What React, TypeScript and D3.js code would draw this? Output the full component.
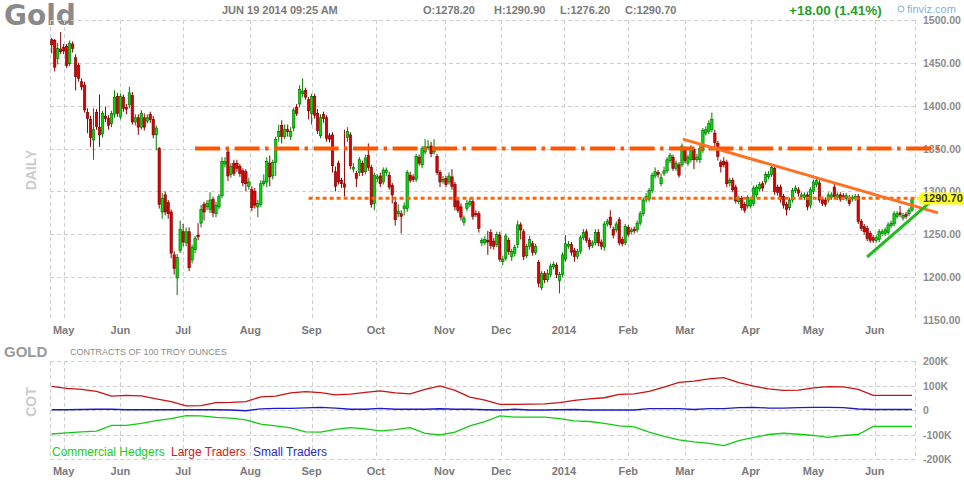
import React from 'react';
import * as d3 from 'd3';

// daily candles (Apr 2013 - Jun 19 2014)
const opens = [
  1477, 1476, 1455, 1466, 1468, 1469, 1449, 1472, 1456, 1447, 1428, 1424, 1392, 1384, 1360, 1392, 1375, 1367, 1388, 1385,
  1379, 1390, 1411, 1387, 1410, 1398, 1401, 1412, 1381, 1386, 1375, 1386, 1382, 1390, 1384, 1366, 1350, 1276, 1296, 1287,
  1276, 1226, 1199, 1231, 1253, 1240, 1253, 1220, 1232, 1249, 1263, 1285, 1282, 1279, 1291, 1274, 1282, 1295, 1332, 1346,
  1320, 1333, 1333, 1329, 1324, 1323, 1306, 1302, 1300, 1282, 1285, 1309,
  1311, 1333, 1318, 1334, 1364, 1377, 1364, 1372, 1364, 1374, 1398, 1402, 1414, 1418, 1407, 1391, 1411, 1391, 1365, 1390,
  1386, 1365, 1366, 1323, 1333, 1313, 1309, 1363, 1366, 1326, 1321, 1322, 1333, 1323, 1342, 1328, 1286, 1315, 1318, 1311,
  1322, 1319, 1307, 1287, 1274, 1274, 1280, 1280, 1319, 1317, 1314, 1340, 1331, 1346, 1351, 1353, 1346, 1341, 1322, 1312,
  1315, 1311, 1317, 1308, 1289, 1282, 1264, 1280, 1285, 1288, 1274, 1274, 1240,
  1240, 1243, 1252, 1242, 1238, 1249, 1218, 1222, 1243, 1224, 1228, 1238, 1261, 1253, 1225, 1236, 1239, 1229, 1217, 1188,
  1204, 1197, 1203, 1212, 1214, 1196, 1203, 1221, 1236, 1238, 1231, 1224, 1230, 1246, 1253, 1243, 1237, 1240, 1252, 1241,
  1235, 1262, 1270, 1256, 1255, 1267, 1244, 1240, 1258, 1253, 1256, 1255, 1263, 1274, 1290, 1291, 1301, 1318, 1322, 1309,
  1321, 1324, 1336, 1340, 1327, 1331, 1331, 1349, 1333, 1337, 1349, 1337,
  1337, 1348, 1368, 1370, 1372, 1368, 1356, 1334, 1335, 1334, 1310, 1313, 1305, 1288, 1292, 1285, 1283, 1283, 1286, 1296,
  1303, 1309, 1311, 1317, 1320, 1327, 1305, 1305, 1294, 1285, 1281, 1290, 1301, 1302, 1294, 1293, 1296, 1284, 1300, 1308,
  1310, 1291, 1290, 1290, 1293, 1305, 1293, 1296, 1295, 1292, 1293, 1291, 1292, 1294, 1265, 1259, 1257, 1251, 1246, 1243,
  1244, 1251, 1251, 1252, 1260, 1262, 1271, 1275, 1269, 1273, 1274, 1278.2,
];
const highs = [
  1479, 1478, 1473, 1486, 1472, 1472, 1476, 1475, 1460, 1450, 1432, 1428, 1397, 1388, 1397, 1396, 1413, 1394, 1399, 1389,
  1394, 1418, 1415, 1414, 1413, 1402, 1422, 1416, 1390, 1390, 1395, 1391, 1390, 1393, 1388, 1377, 1352, 1298, 1300, 1290,
  1279, 1230, 1227, 1266, 1262, 1258, 1258, 1238, 1248, 1263, 1284, 1288, 1290, 1299, 1294, 1288, 1297, 1340, 1340, 1349,
  1333, 1337, 1337, 1332, 1327, 1326, 1316, 1306, 1304, 1290, 1313, 1320,
  1340, 1342, 1337, 1364, 1378, 1383, 1378, 1378, 1375, 1398, 1402, 1424, 1432, 1421, 1410, 1414, 1414, 1396, 1390, 1393,
  1389, 1368, 1369, 1329, 1336, 1316, 1372, 1375, 1369, 1333, 1324, 1340, 1336, 1343, 1356, 1331, 1322, 1320, 1322, 1328,
  1328, 1323, 1310, 1291, 1285, 1278, 1287, 1325, 1323, 1320, 1344, 1343, 1353, 1361, 1360, 1358, 1361, 1344, 1325, 1318,
  1318, 1322, 1326, 1311, 1292, 1286, 1272, 1290, 1292, 1291, 1278, 1277, 1246,
  1248, 1254, 1256, 1246, 1253, 1253, 1225, 1251, 1246, 1233, 1238, 1266, 1264, 1256, 1239, 1248, 1242, 1239, 1220, 1207,
  1207, 1209, 1216, 1218, 1217, 1206, 1229, 1249, 1242, 1241, 1234, 1233, 1249, 1256, 1256, 1246, 1243, 1256, 1256, 1244,
  1265, 1268, 1278, 1259, 1265, 1270, 1247, 1262, 1261, 1258, 1259, 1266, 1277, 1293, 1298, 1304, 1322, 1328, 1325, 1321,
  1329, 1340, 1345, 1343, 1336, 1334, 1356, 1352, 1343, 1354, 1352, 1344,
  1354, 1374, 1376, 1383, 1392, 1372, 1359, 1337, 1340, 1337, 1316, 1316, 1308, 1295, 1295, 1288, 1296, 1293, 1307, 1308,
  1311, 1312, 1323, 1324, 1332, 1330, 1308, 1308, 1297, 1288, 1293, 1304, 1307, 1305, 1299, 1299, 1299, 1305, 1314, 1317,
  1313, 1294, 1293, 1299, 1299, 1309, 1299, 1299, 1298, 1298, 1296, 1296, 1297, 1297, 1268, 1262, 1260, 1254, 1249, 1249,
  1256, 1256, 1258, 1264, 1266, 1277, 1277, 1283, 1275, 1276, 1281, 1290.9,
];
const lows = [
  1461, 1440, 1448, 1460, 1460, 1444, 1446, 1462, 1418, 1428, 1418, 1392, 1368, 1352, 1337, 1372, 1352, 1363, 1381, 1372,
  1375, 1386, 1387, 1384, 1393, 1390, 1397, 1378, 1377, 1366, 1372, 1371, 1379, 1380, 1362, 1348, 1280, 1268, 1272, 1268,
  1222, 1203, 1179, 1228, 1236, 1236, 1207, 1216, 1228, 1243, 1258, 1266, 1278, 1275, 1270, 1270, 1279, 1292, 1328, 1312,
  1316, 1318, 1323, 1317, 1306, 1300, 1302, 1277, 1280, 1270, 1282, 1306,
  1305, 1306, 1314, 1318, 1358, 1356, 1361, 1364, 1360, 1370, 1388, 1398, 1410, 1407, 1384, 1378, 1385, 1367, 1362, 1380,
  1358, 1357, 1322, 1300, 1308, 1304, 1294, 1358, 1326, 1322, 1305, 1318, 1318, 1320, 1324, 1281, 1278, 1311, 1305, 1308,
  1318, 1302, 1286, 1260, 1270, 1251, 1272, 1276, 1310, 1311, 1311, 1330, 1327, 1343, 1348, 1340, 1343, 1319, 1305, 1309,
  1305, 1308, 1302, 1278, 1275, 1266, 1260, 1277, 1282, 1267, 1270, 1252, 1236,
  1237, 1226, 1233, 1232, 1235, 1218, 1214, 1219, 1226, 1219, 1224, 1234, 1244, 1220, 1222, 1232, 1225, 1226, 1188, 1185,
  1193, 1194, 1200, 1209, 1199, 1181, 1200, 1218, 1233, 1225, 1218, 1221, 1227, 1243, 1240, 1232, 1234, 1237, 1236, 1232,
  1231, 1259, 1257, 1245, 1252, 1237, 1236, 1237, 1247, 1250, 1251, 1252, 1260, 1271, 1287, 1288, 1298, 1315, 1316, 1306,
  1318, 1321, 1333, 1324, 1324, 1316, 1328, 1333, 1330, 1334, 1326, 1334,
  1333, 1345, 1365, 1367, 1369, 1352, 1336, 1322, 1328, 1305, 1306, 1299, 1286, 1285, 1278, 1275, 1280, 1280, 1283, 1293,
  1300, 1300, 1308, 1314, 1317, 1296, 1295, 1287, 1280, 1272, 1278, 1287, 1298, 1294, 1291, 1290, 1278, 1280, 1297, 1305,
  1287, 1283, 1282, 1287, 1290, 1291, 1290, 1288, 1290, 1289, 1283, 1288, 1289, 1262, 1254, 1250, 1242, 1240, 1240, 1240,
  1241, 1248, 1248, 1249, 1257, 1259, 1268, 1270, 1266, 1268, 1271, 1276.2,
];
const closes = [
  1471, 1445, 1467, 1463, 1464, 1447, 1473, 1467, 1434, 1432, 1422, 1395, 1385, 1363, 1372, 1376, 1366, 1391, 1385, 1377,
  1391, 1410, 1391, 1411, 1397, 1396, 1415, 1381, 1386, 1375, 1391, 1375, 1386, 1384, 1366, 1374, 1285, 1292, 1276, 1274,
  1228, 1210, 1223, 1256, 1241, 1253, 1211, 1235, 1245, 1247, 1279, 1276, 1286, 1290, 1275, 1284, 1294, 1335, 1335, 1318,
  1329, 1321, 1327, 1321, 1310, 1309, 1311, 1281, 1284, 1286, 1309, 1312,
  1335, 1317, 1334, 1361, 1370, 1364, 1372, 1370, 1370, 1395, 1391, 1419, 1417, 1410, 1394, 1411, 1389, 1371, 1386, 1385,
  1362, 1361, 1330, 1306, 1311, 1309, 1305, 1370, 1330, 1328, 1315, 1337, 1322, 1339, 1328, 1285, 1319, 1317, 1309, 1325,
  1325, 1305, 1296, 1267, 1277, 1271, 1283, 1322, 1313, 1314, 1341, 1333, 1350, 1352, 1352, 1344, 1349, 1322, 1311, 1314,
  1308, 1318, 1306, 1282, 1278, 1270, 1269, 1286, 1288, 1271, 1273, 1257, 1243,
  1244, 1241, 1237, 1236, 1250, 1221, 1221, 1248, 1230, 1230, 1235, 1261, 1255, 1224, 1236, 1244, 1229, 1236, 1193, 1204,
  1197, 1204, 1213, 1215, 1203, 1203, 1226, 1239, 1238, 1229, 1224, 1230, 1246, 1252, 1243, 1236, 1240, 1252, 1240, 1236,
  1262, 1265, 1261, 1249, 1262, 1240, 1239, 1259, 1250, 1255, 1254, 1263, 1274, 1290, 1294, 1301, 1319, 1323, 1320, 1316,
  1324, 1337, 1342, 1327, 1333, 1319, 1353, 1336, 1340, 1350, 1337, 1340,
  1350, 1371, 1372, 1379, 1384, 1357, 1341, 1329, 1331, 1309, 1313, 1302, 1289, 1292, 1281, 1278, 1293, 1290, 1304, 1305,
  1308, 1304, 1320, 1320, 1328, 1300, 1299, 1291, 1284, 1279, 1290, 1301, 1304, 1298, 1296, 1296, 1282, 1302, 1311, 1313,
  1290, 1286, 1285, 1296, 1296, 1294, 1296, 1291, 1293, 1295, 1286, 1293, 1294, 1265, 1257, 1253, 1245, 1243, 1243, 1246,
  1253, 1253, 1255, 1261, 1263, 1274, 1274, 1273, 1272, 1271, 1278, 1290.7,
];

const monthLabels = ['May', 'Jun', 'Jul', 'Aug', 'Sep', 'Oct', 'Nov', 'Dec', '2014', 'Feb', 'Mar', 'Apr', 'May', 'Jun'];
const monthBars = [4, 23, 44, 66.5, 87, 108.5, 131.5, 150.5, 171.5, 193, 212, 234, 255, 275.5];
const priceTicks = [1150, 1200, 1250, 1300, 1350, 1400, 1450, 1500];
const cotTicks = [200, 100, 0, -100, -200];
const cotTickLabels = ['200K', '100K', '0', '-100K', '-200K'];

// weekly COT positions, thousands of contracts
const cotBars = [...d3.range(0, 290, 5), 288];
const cotLarge = [
  96, 88, 84, 76, 57, 60, 58, 45, 34, 17, 18, 30, 31, 34, 54, 57, 70, 75, 71, 62,
  65, 72, 78, 70, 66, 84, 98, 80, 53, 40, 23, 23, 24, 25, 30, 39, 45, 50, 64, 66,
  76, 93, 113, 118, 127, 132, 112, 97, 86, 80, 81, 90, 95, 94, 84, 60, 60, 60, 60,
];
const cotSmall = [
  1, 1, 2, 3, 3, 1, 1, 1, 1, 1, 1, 1, 0, -3, 5, 7, 7, 9, 11, 8,
  3, 3, 7, 3, 3, 3, 5, 3, 3, 1, 0, 3, 0, 0, 1, 2, 0, 0, 0, 0,
  6, 6, 6, 2, 6, 6, 10, 11, 8, 8, 10, 11, 11, 10, 4, 2, 2, 2, 2,
];
const cotCommercial = [
  -98, -93, -89, -86, -63, -63, -55, -43, -35, -23, -24, -30, -33, -40, -58, -65, -73, -89, -90, -79,
  -72, -77, -85, -80, -72, -95, -102, -90, -65, -47, -24, -29, -29, -29, -35, -44, -47, -55, -65, -69,
  -90, -108, -122, -130, -136, -145, -125, -112, -100, -95, -99, -104, -112, -104, -100, -67, -67, -67, -67,
];

// hand drawn studies, in [bar, price]
const resistanceLine = [[48, 1350], [297, 1350]];
const supportLine = [[86, 1292], [293.5, 1292]];
const downTrend = [[211.3, 1361], [296.7, 1275]];
const upTrend = [[273, 1223.5], [296.4, 1294.6]];

const FONT = 'Arial, "Liberation Sans", sans-serif';

const App: React.FC = () => {
  const left = 50;
  const right = 915;
  const x = d3.scaleLinear().domain([0, closes.length - 1]).range([51.7, 912]);
  const y = d3.scaleLinear().domain([1150, 1500]).range([320, 20]);
  const yc = d3.scaleLinear().domain([-200, 200]).range([459, 361]);

  const seg = d3
    .line<number[]>()
    .x((d) => x(d[0]))
    .y((d) => y(d[1]));

  const cotLine = d3
    .line<number>()
    .x((_, i) => x(cotBars[i]))
    .y((d) => yc(d));

  const gridX = [left, ...monthBars.map((b) => x(b)), right];
  const last = closes[closes.length - 1];
  const ly = y(last) - 1;

  return (
    <div style={{ position: 'absolute', left: 0, top: 0, background: '#fff' }}>
      <svg width={964} height={480} style={{ display: 'block', fontFamily: FONT }}>
        <rect width={964} height={480} fill="#fff" />

        {/* header */}
        <text x={4} y={25} fontSize={28} fontWeight="bold" fill="#8a8a8a" fontFamily='"DejaVu Sans", sans-serif'>
          Gold
        </text>
        <g fontSize={11} fontWeight="bold" fill="#7a7a7a">
          <text x={222} y={14}>JUN 19 2014 09:25 AM</text>
          <text x={423} y={14}>O:1278.20</text>
          <text x={494} y={14}>H:1290.90</text>
          <text x={560} y={14}>L:1276.20</text>
          <text x={625} y={14}>C:1290.70</text>
        </g>
        <text x={789} y={15} fontSize={13.5} fontWeight="bold" fill="#2a9d2a">
          +18.00 (1.41%)
        </text>
        <circle cx={901} cy={9} r={3} fill="none" stroke="#7fb2e0" strokeWidth={1} />
        <text x={907} y={13} fontSize={11} fill="#7fb2e0">
          finviz.com
        </text>

        {/* price panel grid */}
        <g stroke="#cfcfcf" strokeDasharray="4,3" strokeWidth={1}>
          {priceTicks
            .filter((t) => t > 1150)
            .map((t) => (
              <line key={t} x1={left} x2={right} y1={Math.round(y(t)) + 0.5} y2={Math.round(y(t)) + 0.5} />
            ))}
          {gridX.map((gx, i) => (
            <line key={i} x1={Math.round(gx) + 0.5} x2={Math.round(gx) + 0.5} y1={20} y2={320} />
          ))}
        </g>
        <g fontSize={10.5} fontWeight="bold" fill="#8c8c8c">
          {priceTicks.map((t) => (
            <text key={t} x={923} y={y(t) + 4}>
              {t.toFixed(2)}
            </text>
          ))}
        </g>
        <g fontSize={11} fontWeight="bold" fill="#7a7a7a" textAnchor="middle">
          {monthLabels.map((m, i) => (
            <text key={i} x={x(monthBars[i])} y={334}>
              {m}
            </text>
          ))}
        </g>
        <text
          transform="translate(36,170) rotate(-90)"
          textAnchor="middle"
          fontSize={14}
          fontWeight="bold"
          fill="#cccccc"
        >
          DAILY
        </text>

        {/* candles */}
        <g>
          {closes.map((c, i) => {
            const o = opens[i];
            const up = c >= o;
            const cx = x(i);
            const top = y(Math.max(o, c));
            const h = Math.max(1, y(Math.min(o, c)) - top);
            return (
              <g key={i}>
                <line
                  x1={cx}
                  x2={cx}
                  y1={y(highs[i])}
                  y2={y(lows[i])}
                  stroke={up ? '#007a00' : '#8a0000'}
                  strokeWidth={1}
                />
                <rect
                  x={cx - 1.2}
                  y={top}
                  width={2.4}
                  height={h}
                  fill={up ? '#00dd00' : '#e00000'}
                  stroke={up ? '#006600' : '#700000'}
                  strokeWidth={0.6}
                />
              </g>
            );
          })}
        </g>

        {/* studies */}
        <path d={seg(resistanceLine) || ''} stroke="#ff5500" strokeWidth={4} strokeDasharray="25,5.5,3.5,5.5" fill="none" />
        <path d={seg(supportLine) || ''} stroke="#ff6600" strokeWidth={3} strokeDasharray="4,3" fill="none" />
        <path d={seg(downTrend) || ''} stroke="#ff7020" strokeWidth={3} fill="none" />
        <path d={seg(upTrend) || ''} stroke="#22bb22" strokeWidth={3} fill="none" />

        {/* last price tag */}
        <path
          d={`M917,${ly} L921,${ly - 6} L964,${ly - 6} L964,${ly + 6} L921,${ly + 6} Z`}
          fill="#ffff22"
        />
        <text x={923} y={ly + 4} fontSize={11} fontWeight="bold" fill="#333">
          {last.toFixed(2)}
        </text>

        {/* COT panel */}
        <text x={4} y={357} fontSize={15} fontWeight="bold" fill="#9a9a9a">
          GOLD
        </text>
        <text x={70} y={355} fontSize={9} fill="#8a8a8a">
          CONTRACTS OF 100 TROY OUNCES
        </text>
        <text
          transform="translate(36,402) rotate(-90)"
          textAnchor="middle"
          fontSize={14}
          fontWeight="bold"
          fill="#cccccc"
        >
          COT
        </text>
        <g stroke="#cfcfcf" strokeDasharray="4,3" strokeWidth={1}>
          {cotTicks.map((t) => (
            <line key={t} x1={left} x2={right} y1={Math.round(yc(t)) + 0.5} y2={Math.round(yc(t)) + 0.5} />
          ))}
          {gridX.map((gx, i) => (
            <line key={i} x1={Math.round(gx) + 0.5} x2={Math.round(gx) + 0.5} y1={361} y2={459} />
          ))}
        </g>
        <g fontSize={10.5} fontWeight="bold" fill="#8c8c8c">
          {cotTicks.map((t, i) => (
            <text key={t} x={923} y={yc(t) + 4}>
              {cotTickLabels[i]}
            </text>
          ))}
        </g>
        <path d={cotLine(cotLarge) || ''} stroke="#cc1111" strokeWidth={1.3} fill="none" />
        <path d={cotLine(cotSmall) || ''} stroke="#1a1acc" strokeWidth={1.3} fill="none" />
        <path d={cotLine(cotCommercial) || ''} stroke="#11cc11" strokeWidth={1.3} fill="none" />

        <g fontSize={12}>
          <text x={52} y={456} fill="#22cc22">Commercial Hedgers</text>
          <text x={171} y={456} fill="#cc2222">Large Traders</text>
          <text x={253} y={456} fill="#2a2acc">Small Traders</text>
        </g>
        <g fontSize={11} fontWeight="bold" fill="#7a7a7a" textAnchor="middle">
          {monthLabels.map((m, i) => (
            <text key={i} x={x(monthBars[i])} y={475}>
              {m}
            </text>
          ))}
        </g>
      </svg>
    </div>
  );
};

export default App;
